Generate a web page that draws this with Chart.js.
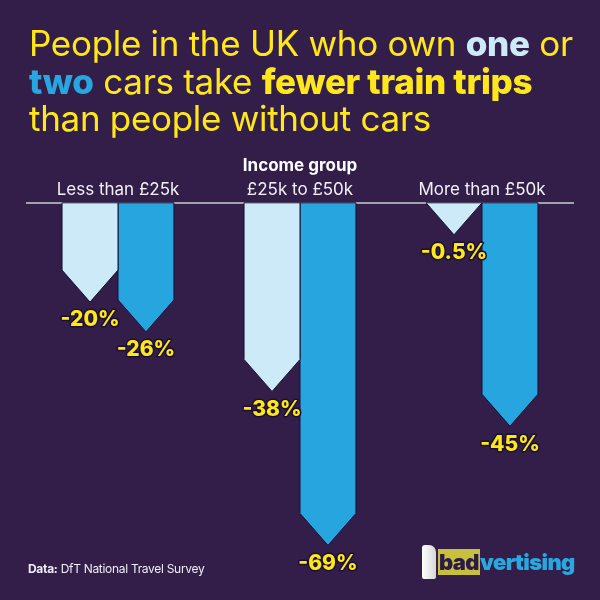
<!DOCTYPE html>
<html>
<head>
<meta charset="utf-8">
<script src="https://cdn.jsdelivr.net/npm/chart.js@4.4.1/dist/chart.umd.min.js"></script>
<style>
  body { margin: 0; background: #321e49; }
  #wrap { position: relative; width: 600px; height: 600px; overflow: hidden; background: #321e49; font-family: Inter, "Noto Sans", sans-serif; }
  #chart { position: absolute; left: 0; top: 0; }
  .headline { position: absolute; left: 29px; top: 25px; font-size: 35px; line-height: 37.5px; color: #ffe81a; white-space: nowrap; letter-spacing: -0.3px; }
  .headline b { font-weight: 800; }
  .headline .one { color: #cdeaf8; }
  .headline .two { color: #27a6e0; }
  .source { position: absolute; left: 28px; top: 561px; font-size: 12px; letter-spacing: -0.3px; color: #f0edf5; }
  .source b { font-weight: 700; }
  .logo { position: absolute; left: 422px; top: 545px; height: 36px; }
  .logo .flag { position: absolute; left: 0; top: 0; width: 14px; height: 34px; background: linear-gradient(90deg, #ffffff, #d6d6d6); border-radius: 3px 7px 2px 2px; }
  .logo .word { position: absolute; left: 16px; top: 4px; font-size: 22px; font-weight: 900; letter-spacing: -0.6px; white-space: nowrap; }
  .logo .bad { color: #2b1b4a; background: #c7c03c; padding: 0 1px; }
  .logo .vert { color: #29a8e0; }
</style>
</head>
<body>
<div id="wrap">
  <canvas id="chart" width="600" height="600"></canvas>
  <div class="headline">People in the UK who own <b class="one">one</b> or<br><b class="two">two</b> cars take <b>fewer train trips</b><br>than people without cars</div>
  <div class="source"><b>Data:</b> DfT National Travel Survey</div>
  <div class="logo"><div class="flag"></div><div class="word"><span class="bad">bad</span><span class="vert">vertising</span></div></div>
</div>
<script>
const incomeGroups = ["Less than £25k", "£25k to £50k", "More than £50k"];
const axisTitle = "Income group";
const seriesNames = ["One car", "Two cars"];
const oneCarChange = [-20, -38, -0.5];
const twoCarChange = [-26, -69, -45];
const seriesColors = ["#cdeaf8", "#26a5df"];

const tipDepth = 32;

function tipOf(el) {
    return Math.max(el.y, el.base + tipDepth);
}

// chevron shaped bars instead of the default rectangles
const chevronBars = {
    id: "chevronBars",
    beforeDatasetDraw(chart, args) {
        const ctx = chart.ctx;
        const ds = chart.data.datasets[args.index];
        ctx.save();
        args.meta.data.forEach(el => {
            const half = el.width / 2;
            const tip = tipOf(el);
            const shoulder = Math.max(el.base, tip - tipDepth);
            ctx.beginPath();
            ctx.moveTo(el.x - half, el.base);
            ctx.lineTo(el.x - half, shoulder);
            ctx.lineTo(el.x, tip);
            ctx.lineTo(el.x + half, shoulder);
            ctx.lineTo(el.x + half, el.base);
            ctx.closePath();
            ctx.fillStyle = ds.backgroundColor;
            ctx.fill();
            ctx.lineWidth = 1;
            ctx.strokeStyle = "#1b0f33";
            ctx.stroke();
        });
        ctx.restore();
        return false;
    },
    afterDatasetsDraw(chart) {
        const ctx = chart.ctx;
        ctx.save();
        ctx.font = "800 21px Inter";
        ctx.textAlign = "center";
        ctx.textBaseline = "middle";
        ctx.lineJoin = "round";
        chart.data.datasets.forEach((ds, i) => {
            chart.getDatasetMeta(i).data.forEach((el, j) => {
                const v = ds.data[j];
                const txt = (Number.isInteger(v) ? v : v.toFixed(1)) + "%";
                const y = tipOf(el) + 18;
                ctx.lineWidth = 3;
                ctx.strokeStyle = "#1b0f33";
                ctx.strokeText(txt, el.x, y);
                ctx.fillStyle = "#ffe81a";
                ctx.fillText(txt, el.x, y);
            });
        });
        ctx.restore();
    }
};

new Chart(document.getElementById("chart"), {
    type: "bar",
    data: {
        labels: incomeGroups,
        datasets: [
            { label: seriesNames[0], data: oneCarChange, backgroundColor: seriesColors[0] },
            { label: seriesNames[1], data: twoCarChange, backgroundColor: seriesColors[1] }
        ]
    },
    options: {
        responsive: false,
        animation: false,
        categoryPercentage: 0.615,
        barPercentage: 1.0,
        layout: { padding: { top: 156, left: 27, right: 27, bottom: 0 } },
        plugins: { legend: { display: false }, tooltip: { enabled: false } },
        scales: {
            x: {
                position: "top",
                grid: { display: false, drawTicks: false },
                border: { display: true, color: "#a3a2ab", width: 2 },
                ticks: { color: "#f3f1f6", font: { family: "Inter", size: 17 }, padding: 3 },
                title: { display: true, text: axisTitle, color: "#ffffff", font: { family: "Inter", size: 17, weight: "bold" }, padding: { top: 0, bottom: 0 } }
            },
            y: { display: false, min: -80, max: 0 }
        }
    },
    plugins: [chevronBars]
});
</script>
</body>
</html>
